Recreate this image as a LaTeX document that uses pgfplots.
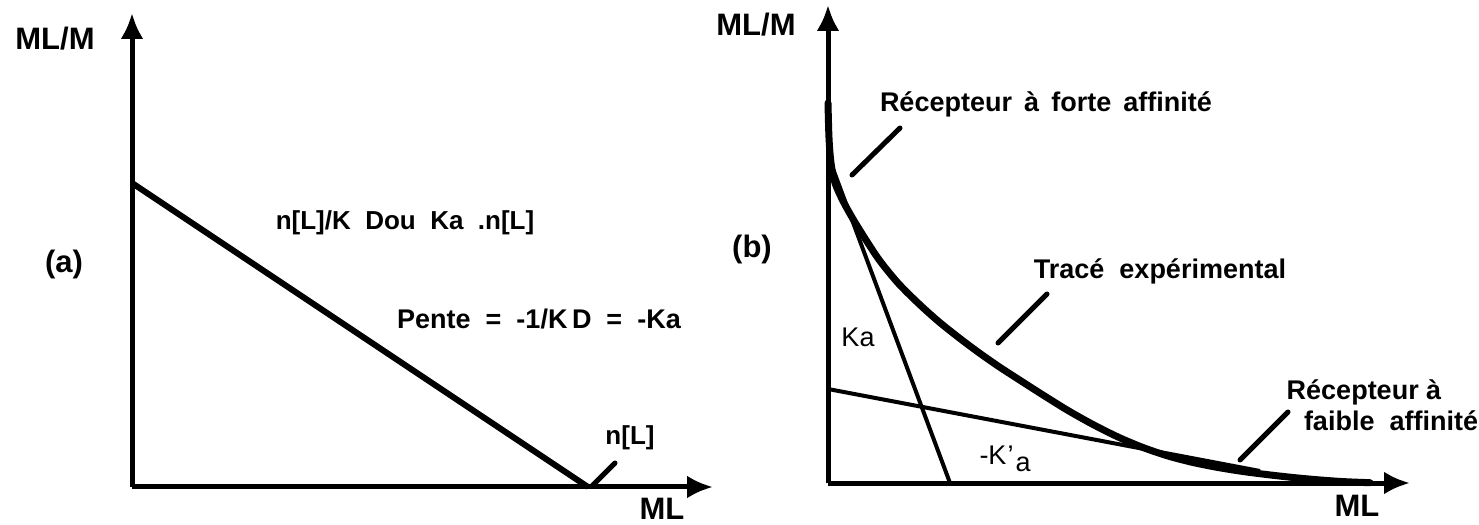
\documentclass[border=0pt]{standalone}
\usepackage{fontspec}
\setmainfont{Liberation Sans}
\usepackage{pgfplots}
\pgfplotsset{compat=1.18}
\usetikzlibrary{arrows.meta}

% pixel-like units: 1 px of the scan = 0.5pt
\pgfplotsset{
  scanaxis/.style={
    x=0.5pt, y=0.5pt,
    anchor=south west,
    axis x line*=left, axis y line*=left,
    xmin=0, ymin=0,
    ticks=none,
    clip=false,
    axis line style={line width=2.5pt},
    x axis line style={-{Latex[length=13pt,width=11.5pt]}},
    y axis line style={-{Latex[length=13pt,width=11.5pt]}},
  }
}

\begin{document}
\begin{tikzpicture}

% (a) linear Scatchard plot
\begin{axis}[scanaxis, at={(66pt,19pt)}, xmax=581, ymax=474]
  \addplot[line width=3pt, no marks] coordinates {(0,304) (456,0)};
\end{axis}

% (b) curved Scatchard plot, two receptor classes
\begin{axis}[scanaxis, at={(414pt,21pt)}, xmax=582, ymax=478]
  \addplot[line width=3.5pt, no marks, smooth, line cap=round] coordinates {
    (0,380) (1,345) (3,320) (7,300) (15,282) (25,264) (38,243) (52,222)
    (70,200) (90,180) (110,162) (130,146) (150,131) (170,117) (190,104)
    (215,88) (240,72.5) (265,58.5) (290,46) (315,35.5) (340,27) (365,20.5)
    (390,15.5) (415,11.5) (440,8.3) (465,5.5) (490,3.2) (515,1.4) (542,0.3)
  };
  % tangent, high affinity
  \addplot[line width=2pt, no marks] coordinates {(1,325) (122,0)};
  % tangent, low affinity
  \addplot[line width=2pt, no marks] coordinates {(0,94) (432,12)};
\end{axis}

\begin{scope}[x=0.5pt, y=-0.5pt, yshift=262.5pt, font=\bfseries]
  \def\big{\fontsize{15.5}{18}\selectfont}
  \def\txt{\fontsize{13}{16}\selectfont}
  \def\txtb{\fontsize{13.5}{16}\selectfont}
  % axis names
  \node[anchor=base, inner sep=0] at (55,50) {\big ML/M};
  \node[anchor=base, inner sep=0] at (662,520) {\big ML};
  \node[anchor=base, inner sep=0] at (756,36) {\big ML/M};
  \node[anchor=base, inner sep=0] at (1357,517) {\big ML};
  \node[inner sep=0] at (64,264) {\big (a)};
  \node[inner sep=0] at (752,249) {\big (b)};
  % panel a
  \node[inner sep=0] at (405,223) {\txt n[L]/K\ \ Dou\ \ Ka\ \ .n[L]};
  \node[anchor=base, inner sep=0] at (539,329) {\txtb Pente\ \ =\ \ -1/K\,D\ \ =\ \ -Ka};
  \node[inner sep=0] at (630,438) {\txt n[L]};
  \draw[line width=2.5pt, line cap=round] (592,486) -- (615,463);
  % panel b
  \node[anchor=base, inner sep=0] at (1046,112) {\txtb Récepteur\hspace{0.45em}à\hspace{0.45em}forte\hspace{0.45em}affinité};
  \node[anchor=base, inner sep=0] at (1160,279) {\txtb Tracé\ \ expérimental};
  \node[anchor=base, inner sep=0] at (1364,400) {\txtb Récepteur\ à};
  \node[anchor=base, inner sep=0] at (1391,431) {\txtb faible\ \ affinité};
  \node[anchor=base, inner sep=0, font=\mdseries] at (858,347) {\txtb Ka};
  \node[anchor=base, inner sep=0, font=\mdseries] at (1005,465) {\txtb -K\kern0.5pt'\kern1pt\raisebox{-3.5pt}{a}};
  \draw[line width=2.5pt, line cap=round] (852,175) -- (900,128);
  \draw[line width=2.5pt, line cap=round] (998,343) -- (1047,294);
  \draw[line width=2.5pt, line cap=round] (1240,460) -- (1288,412);
\end{scope}

\pgfresetboundingbox
\useasboundingbox (0,0) rectangle (739.5pt,262.5pt);
\end{tikzpicture}
\end{document}
